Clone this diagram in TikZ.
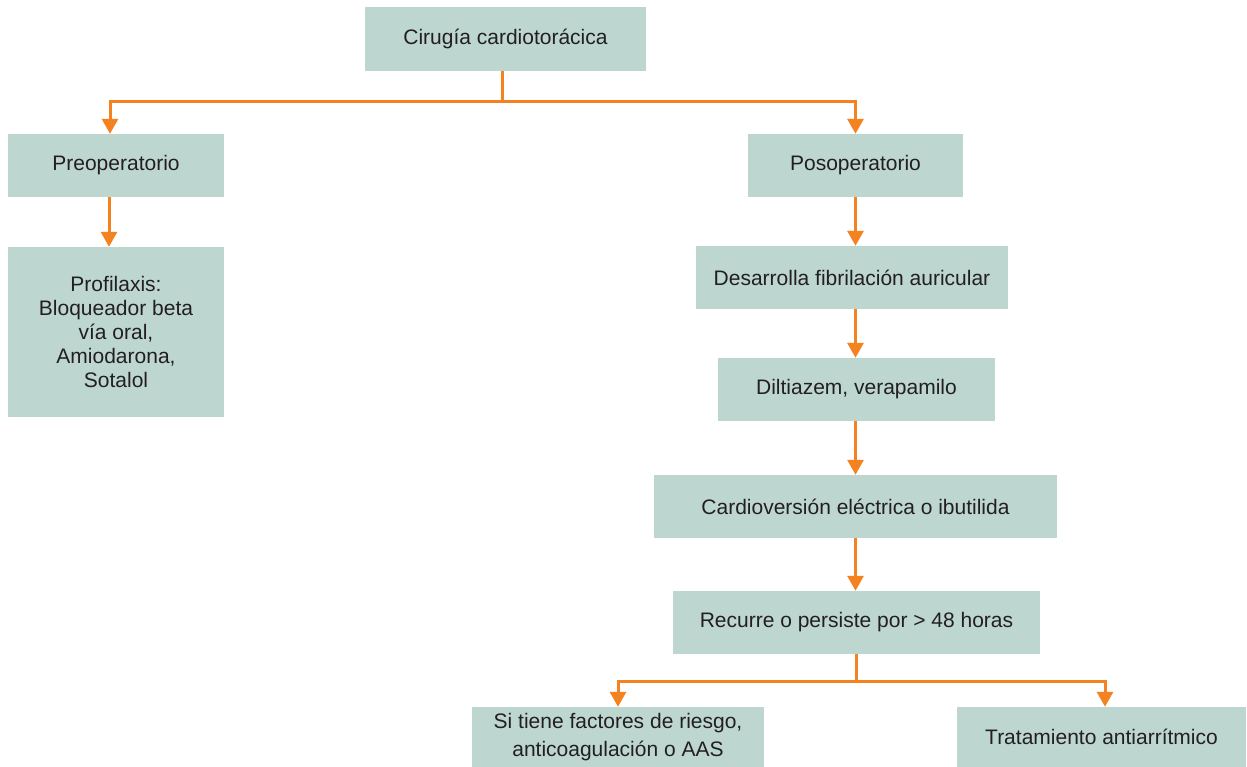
\documentclass[tikz,border=0pt]{standalone}
\usepackage{fontspec}
\setmainfont{Liberation Sans}
\usetikzlibrary{arrows.meta}
\definecolor{boxfill}{HTML}{BDD7D0}
\definecolor{arrowc}{HTML}{F58220}
\definecolor{txt}{HTML}{231F20}
\begin{document}
\begin{tikzpicture}[x=1pt,y=-1pt,
  box/.style={fill=boxfill,draw=none,inner sep=0pt,text=txt,align=center,
    font=\fontsize{21}{24}\selectfont},
  conn/.style={draw=arrowc,line width=3pt},
  arr/.style={conn,-{Triangle[width=16pt,length=15pt]}}]
\useasboundingbox (0,0) rectangle (1247,767);
\node[box,minimum width=281pt,minimum height=64pt] (cir) at (505.5,39) {Cirugía cardiotorácica};
\node[box,minimum width=216pt,minimum height=63pt] (pre) at (116,165.5) {Preoperatorio};
\node[box,minimum width=216pt,minimum height=170pt] (pro) at (116,332) {Profilaxis:\\Bloqueador beta\\vía oral,\\Amiodarona,\\Sotalol};
\node[box,minimum width=215pt,minimum height=63pt] (pos) at (855.5,165.5) {Posoperatorio};
\node[box,minimum width=312pt,minimum height=63pt] (des) at (852,277.5) {Desarrolla fibrilación auricular};
\node[box,minimum width=277pt,minimum height=63pt] (dil) at (856.5,389.5) {Diltiazem, verapamilo};
\node[box,minimum width=403pt,minimum height=63pt] (car) at (855.5,506.5) {Cardioversión eléctrica o ibutilida};
\node[box,minimum width=367pt,minimum height=63pt] (rec) at (856.5,622.5) {Recurre o persiste por > 48 horas};
\node[box,minimum width=292pt,minimum height=60pt,font=\fontsize{21}{28}\selectfont] (sit) at (618,737) {Si tiene factores de riesgo,\\anticoagulación o AAS};
\node[box,minimum width=289pt,minimum height=60pt] (tra) at (1101.5,737) {Tratamiento antiarrítmico};
\coordinate (j1) at (502,102);
\coordinate (j2) at (856,681);
\draw[conn] (cir.south -| j1) -- (j1);
\draw[arr] (j1) -| (pre.north -| 110,0);
\draw[arr] (j1) -| (pos.north);
\draw[arr] (pre.south -| 109,0) -- (pro.north -| 109,0);
\draw[arr] (pos.south) -- (des.north -| pos.south);
\draw[arr] (des.south -| pos.south) -- (dil.north -| pos.south);
\draw[arr] (dil.south -| pos.south) -- (car.north -| pos.south);
\draw[arr] (car.south -| pos.south) -- (rec.north -| pos.south);
\draw[conn] (rec.south -| j2) -- (j2);
\draw[arr] (j2) -| (sit.north);
\draw[arr] (j2) -| (tra.north -| 1105,0);
\end{tikzpicture}
\end{document}
